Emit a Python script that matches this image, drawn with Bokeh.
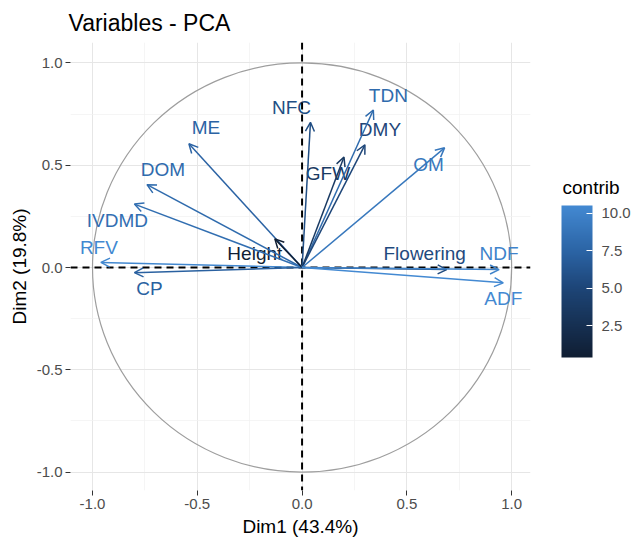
import numpy as np
from bokeh.plotting import figure
from bokeh.models import (Range1d, Span, Arrow, OpenHead, ColumnDataSource, Label,
                          LinearColorMapper, ColorBar, FixedTicker, PrintfTickFormatter)
from bokeh.transform import transform
from bokeh.core.properties import value
from bokeh.embed import file_html
from bokeh.resources import INLINE

# ---- data ----
variables = ["ME", "DOM", "IVDMD", "RFV", "CP", "Height", "NFC", "TDN", "DMY",
             "GFW", "OM", "Flowering", "NDF", "ADF"]
dim1 = [-0.54, -0.74, -0.80, -0.96, -0.80, -0.13, 0.04, 0.34, 0.30, 0.20, 0.68, 0.69, 0.94, 0.96]
dim2 = [0.605, 0.405, 0.31, 0.025, -0.025, 0.14, 0.71, 0.77, 0.60, 0.54, 0.585, -0.01, -0.01, -0.075]
contrib = [7.4, 8.0, 8.3, 10.4, 7.2, 0.4, 5.7, 8.0, 5.1, 3.7, 9.1, 5.4, 10.0, 10.5]
tick_values = [-1.0, -0.5, 0.0, 0.5, 1.0]
minor_values = [-0.75, -0.25, 0.25, 0.75]
legend_ticks = [2.5, 5.0, 7.5, 10.0]

# ---- label placement (pixels: right, up) ----
label_dx = [17, 16, -17, -2, 15, -20, -19, 15, 15, -16, -16, -22, 0, 0]
label_dy = [16, 15, -16, 15, -16, -15, 15, 15, 15, -16, -17, 16, 16, -16]

FONT = "Liberation Sans"
# gradient stops (style)
STOPS = [(0.0, "#101E33"), (0.21, "#163052"), (0.455, "#1D4577"), (0.70, "#2B64A5"), (1.0, "#4389D2")]


def hex2rgb(h):
    return np.array([int(h[i:i + 2], 16) for i in (1, 3, 5)], dtype=float)


def grad(t):
    for (t0, c0), (t1, c1) in zip(STOPS[:-1], STOPS[1:]):
        if t <= t1:
            f = (t - t0) / (t1 - t0)
            rgb = hex2rgb(c0) + (hex2rgb(c1) - hex2rgb(c0)) * f
            return "#%02x%02x%02x" % tuple(int(round(v)) for v in rgb)
    return STOPS[-1][1]


palette = [grad(t) for t in np.linspace(0, 1, 256)]

cmin, cmax = min(contrib), max(contrib)
mapper = LinearColorMapper(palette=palette, low=cmin, high=cmax)


def color_of(c):
    idx = int(round((c - cmin) / (cmax - cmin) * 255))
    return palette[max(0, min(255, idx))]


p = figure(width=635, height=541, output_backend="svg", toolbar_location=None,
           x_range=Range1d(-1.105, 1.09), y_range=Range1d(-1.09, 1.10),
           min_border_left=70, min_border_right=105, min_border_top=42,
           min_border_bottom=51, title="Variables - PCA")
p.outline_line_color = None
p.background_fill_color = "white"
p.border_fill_color = "white"

p.title.text_font = FONT
p.title.text_font_size = "23px"
p.title.text_font_style = "normal"
p.title.text_color = "black"
p.title.offset = -2
p.title.standoff = 14

ticker = FixedTicker(ticks=tick_values, minor_ticks=minor_values)
for ax in (p.xaxis[0], p.yaxis[0]):
    ax.ticker = ticker
    ax.formatter = PrintfTickFormatter(format="%.1f")
    ax.axis_line_color = None
    ax.major_tick_line_color = "#333333"
    ax.major_tick_out = 5
    ax.major_tick_in = 0
    ax.minor_tick_line_color = None
    ax.major_label_text_font = FONT
    ax.major_label_text_font_size = "15px"
    ax.major_label_text_color = "#4D4D4D"
    ax.major_label_standoff = 3
    ax.axis_label_text_font = FONT
    ax.axis_label_text_font_size = "19px"
    ax.axis_label_text_font_style = "normal"
    ax.axis_label_text_color = "black"
    ax.axis_label_standoff = 4
p.xaxis.axis_label = "Dim1 (43.4%)"
p.yaxis.axis_label = "Dim2 (19.8%)"

for g in (p.xgrid[0], p.ygrid[0]):
    g.ticker = ticker
    g.grid_line_color = "#E6E6E6"
    g.grid_line_width = 1
    g.minor_grid_line_color = "#F0F0F0"
    g.minor_grid_line_width = 0.7

# unit circle
p.ellipse(x=0, y=0, width=2, height=2, fill_color=None, line_color="#9E9E9E", line_width=1.2)

# dashed axes through origin
p.add_layout(Span(location=0, dimension="width", line_color="black", line_dash="7 5", line_width=2))
p.add_layout(Span(location=0, dimension="height", line_color="black", line_dash="7 5", line_width=2))

# arrows
for x, y, c in zip(dim1, dim2, contrib):
    col = color_of(c)
    p.add_layout(Arrow(x_start=0, y_start=0, x_end=x, y_end=y, line_color=col, line_width=1.5,
                       end=OpenHead(size=9, line_color=col, line_width=1.5)))

src = ColumnDataSource(dict(x=dim1, y=dim2, name=variables, contrib=contrib,
                            dx=label_dx, dy=[-d for d in label_dy]))
p.text(x="x", y="y", text="name", source=src, x_offset="dx", y_offset="dy",
       text_align="center", text_baseline="middle", text_font=value(FONT),
       text_font_size="19px", text_color=transform("contrib", mapper))

cb = ColorBar(color_mapper=mapper, ticker=FixedTicker(ticks=legend_ticks),
              formatter=PrintfTickFormatter(format="%.1f"),
              width=31, height=152,
              major_label_text_font=FONT, major_label_text_font_size="15px",
              major_label_text_color="#4D4D4D", label_standoff=9,
              major_tick_line_color="white", major_tick_in=6, major_tick_out=0,
              minor_tick_line_color=None, bar_line_color=None,
              padding=0, margin=0, location=(491, 133),
              background_fill_color=None, border_line_color=None)
p.add_layout(cb, "center")

p.add_layout(Label(x=32, y=303, x_units="screen", y_units="screen", text="contrib",
                   text_font=FONT, text_font_size="19px", text_color="black",
                   text_baseline="middle", text_align="left"), "right")

open("out.html", "w").write(file_html(p, INLINE))
